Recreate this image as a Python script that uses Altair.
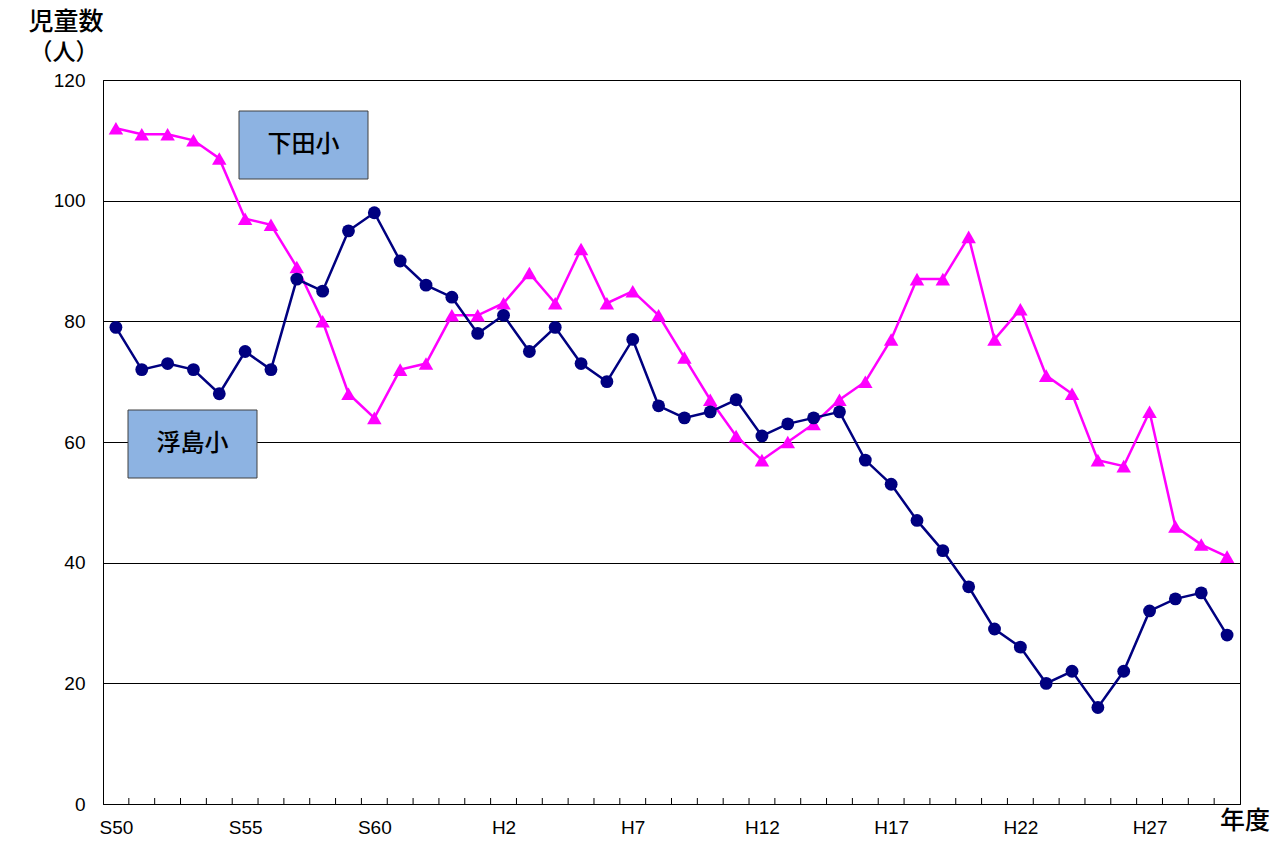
import altair as alt
import pandas as pd

# fiscal years S50 (1975) .. H30 (2018)
year_idx = list(range(44))
shimoda = [112, 111, 111, 110, 107, 97, 96, 89, 80, 68, 64, 72, 73, 81, 81, 83, 88, 83, 92, 83,
           85, 81, 74, 67, 61, 57, 60, 63, 67, 70, 77, 87, 87, 94, 77, 82, 71, 68, 57, 56,
           65, 46, 43, 41]
ukishima = [79, 72, 73, 72, 68, 75, 72, 87, 85, 95, 98, 90, 86, 84, 78, 81, 75, 79, 73, 70,
            77, 66, 64, 65, 67, 61, 63, 64, 65, 57, 53, 47, 42, 36, 29, 26, 20, 22, 16, 22,
            32, 34, 35, 28]
label_pos = [0, 5, 10, 15, 20, 25, 30, 35, 40]
label_txt = ["S50", "S55", "S60", "H2", "H7", "H12", "H17", "H22", "H27"]
series_names = ["下田小", "浮島小"]
series_colors = ["#FF00FF", "#000080"]
series_shapes = ["triangle-up", "circle"]

W, H = 1137, 724
NARROW = "Liberation Sans Narrow, Liberation Sans, sans-serif"
JP = "Noto Sans CJK JP"

rows = []
for i in year_idx:
    rows.append({"i": i, "school": series_names[0], "v": shimoda[i]})
    rows.append({"i": i, "school": series_names[1], "v": ukishima[i]})
df = pd.DataFrame(rows)

label_map = "{" + ",".join(f"'{p}':'{t}'" for p, t in zip(label_pos, label_txt)) + "}"

xscale = alt.Scale(domain=[-0.5, 43.5], nice=False, zero=False)
yscale = alt.Scale(domain=[0, 120], nice=False)

x_enc = alt.X("i:Q", scale=xscale,
              axis=alt.Axis(values=label_pos, labelExpr=f"{label_map}[datum.value]",
                            ticks=False, grid=False, title=None, domainColor="black",
                            labelFont=NARROW, labelFontSize=19, labelColor="black",
                            labelPadding=14, labelFlush=False))
y_enc = alt.Y("v:Q", scale=yscale,
              axis=alt.Axis(values=[0, 20, 40, 60, 80, 100, 120], ticks=False, grid=True,
                            gridColor="black", gridWidth=1, gridOpacity=1, title=None,
                            domainColor="black", labelFont=NARROW, labelFontSize=19,
                            labelColor="black", labelPadding=18))

color = alt.Color("school:N", scale=alt.Scale(domain=series_names, range=series_colors), legend=None)
shape = alt.Shape("school:N", scale=alt.Scale(domain=series_names, range=series_shapes), legend=None)
size = alt.Size("school:N", scale=alt.Scale(domain=series_names, range=[210, 165]), legend=None)

lines = alt.Chart(df).mark_line(strokeWidth=2.5).encode(x=x_enc, y=y_enc, color=color,
                                                        detail="school:N")
points = alt.Chart(df).mark_point(filled=True, opacity=1).encode(
    x="i:Q", y="v:Q", color=color, shape=shape, size=size)

tick_df = pd.DataFrame({"t": [i - 0.5 for i in range(1, 44)]})
ticks = alt.Chart(tick_df).mark_rule(color="black", strokeWidth=1).encode(
    x=alt.X("t:Q", scale=xscale), y=alt.value(H), y2=alt.value(H - 6))

box_df = pd.DataFrame({"name": series_names,
                       "x0": [136, 25], "x1": [265, 154],
                       "y0": [31, 330], "y1": [99, 398]})
boxes = []
for _, r in box_df.iterrows():
    one = pd.DataFrame([r])
    boxes.append(alt.Chart(one).mark_rect(fill="#8DB3E2", stroke="#404040", strokeWidth=1).encode(
        x=alt.value(int(r.x0)), x2=alt.value(int(r.x1)), y=alt.value(int(r.y0)), y2=alt.value(int(r.y1))))
    boxes.append(alt.Chart(one).mark_text(font=JP, fontSize=24, fontWeight=500, color="black").encode(
        x=alt.value((r.x0 + r.x1) / 2), y=alt.value((r.y0 + r.y1) / 2), text="name:N"))

txt_df = pd.DataFrame({"t": ["児童数", "（人）", "年度"],
                       "px": [-37, -39, 1142], "py": [-58, -27, 741],
                       "fs": [25, 23, 25]})
texts = []
for _, r in txt_df.iterrows():
    texts.append(alt.Chart(pd.DataFrame([r])).mark_text(font=JP, fontSize=int(r.fs), fontWeight=500,
                                                         color="black").encode(
        x=alt.value(float(r.px)), y=alt.value(float(r.py)), text="t:N"))

chart = alt.layer(lines, ticks, points, *boxes, *texts).properties(
    width=W, height=H, padding={"left": 20, "top": 2, "right": 0, "bottom": 0}
).configure_view(stroke="black", strokeWidth=1)

chart.save("out.html", embed_options={"renderer": "svg", "actions": False})
